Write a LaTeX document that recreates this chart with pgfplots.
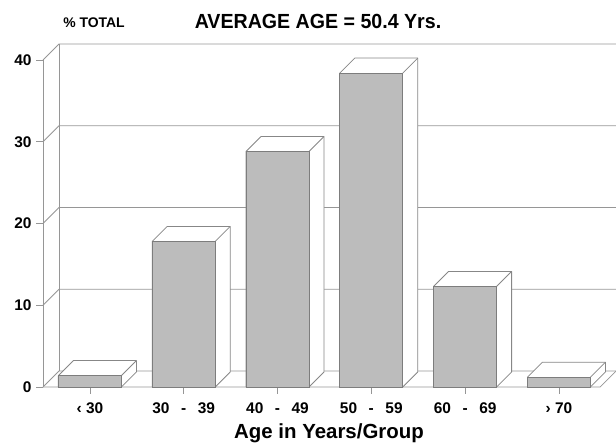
\documentclass[border=0pt]{standalone}
\usepackage{fontspec}
\setmainfont{Liberation Sans}
\newfontfamily\condfont[FakeStretch=0.96]{Liberation Sans}
\usepackage{pgfplots}
\usepackage{pgfplotstable}
\pgfplotsset{compat=1.18}

\definecolor{gridgray}{RGB}{150,150,150}
\definecolor{edgegray}{RGB}{135,135,135}
\definecolor{barfill}{RGB}{188,188,188}
\definecolor{barline}{RGB}{125,125,125}

% share of members per age group, in percent
\pgfplotstableread{
x val
0 1.4
1 17.8
2 28.8
3 38.4
4 12.3
5 1.2
}\agedata

\pgfdeclareplotmark{nothing}{}

\pgfplotsset{
  frame/.style={
    at={(43bp,57bp)}, anchor=south west,
    x=93.8bp, y=8.175bp,
    xmin=-0.5, xmax=5.44, ymin=0, ymax=40,
    clip=false,
  },
}

\begin{document}
\begin{tikzpicture}
\path[use as bounding box] (0,0) rectangle (616bp,444bp);
% walls, grid and the white top and side faces of the columns
\begin{axis}[
  frame,
  axis line style={draw=none},
  xtick={0,...,5},
  xticklabels={‹ 30, 30\hspace{0.75em}-\hspace{0.75em}39, 40\hspace{0.75em}-\hspace{0.75em}49,
               50\hspace{0.75em}-\hspace{0.75em}59, 60\hspace{0.75em}-\hspace{0.75em}69, › 70},
  ytick={0,10,20,30,40},
  xtick pos=left, ytick pos=left,
  tick align=outside,
  major tick length=7bp,
  tick style={draw=gridgray, line width=0.8bp},
  /pgf/number format/assume math mode=true,
  ticklabel style={font=\fontsize{15.5}{15.5}\selectfont\bfseries},
  yticklabel style={xshift=-1bp},
  xticklabel style={yshift=-5bp},
]
\draw[gridgray, line width=0.8bp] (axis cs:-0.5,0) -- (axis cs:-0.5,40);
\draw[gridgray, line width=0.8bp] (axis cs:-0.5,0) -- (axis cs:5.44,0)
   -- ([shift={(16bp,16bp)}]axis cs:5.44,0);
\draw[gridgray, line width=0.8bp] ([shift={(16bp,16bp)}]axis cs:-0.5,0)
   -- ([shift={(16bp,16bp)}]axis cs:-0.5,40);
\pgfplotsinvokeforeach{0,10,20,30,40}{
  \draw[gridgray, line width=0.8bp] (axis cs:-0.5,#1)
     -- ([shift={(16bp,16bp)}]axis cs:-0.5,#1)
     -- ([shift={(16bp,16bp)}]axis cs:5.44,#1);
}
\addplot[scatter, only marks, mark=nothing,
  visualization depends on={\thisrow{val} \as \val},
  scatter/@pre marker code/.code={%
    \pgfmathsetmacro\h{\val*8.175}%
    \pgfmathsetmacro\hb{15-\val*8.175}%
    \filldraw[fill=white, draw=edgegray, line width=0.8bp, line join=round]
      (-31.5bp,-\h bp) -- (-31.5bp,0bp) -- (-16.5bp,15bp) -- (46.5bp,15bp)
      -- (46.5bp,\hb bp) -- (31.5bp,-\h bp) -- cycle;
    \draw[edgegray, line width=0.8bp] (31.5bp,0bp) -- (46.5bp,15bp);
  },
  scatter/@post marker code/.code={},
] table[x=x, y=val] {\agedata};
\end{axis}
% shaded front faces
\begin{axis}[frame, hide axis]
\addplot[ybar, bar width=63bp, bar shift=0pt, fill=barfill, draw=barline,
  line width=0.8bp] table[x=x, y=val] {\agedata};
\end{axis}
\node[anchor=base, font=\bfseries\fontsize{14}{14}\selectfont]
  at (94bp,416bp) {\% TOTAL};
\node[anchor=base, font=\condfont\bfseries\fontsize{20.5}{20.5}\selectfont]
  at (318bp,415bp) {AVERAGE AGE = 50.4 Yrs.};
\node[anchor=base, font=\bfseries\fontsize{20.5}{20.5}\selectfont]
  at (329bp,5.3bp) {Age in Years/Group};
\end{tikzpicture}
\end{document}
